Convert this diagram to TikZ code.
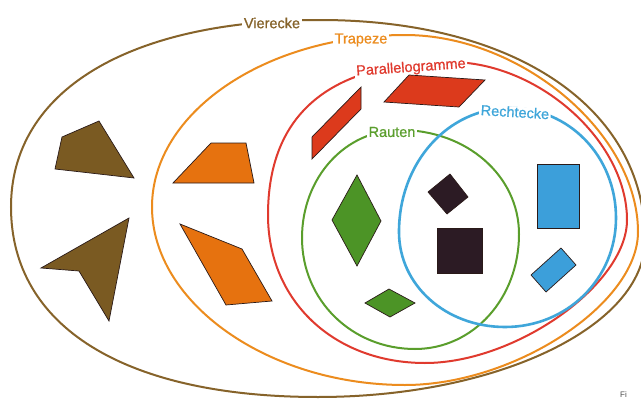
\documentclass[tikz,border=0pt]{standalone}
\usepackage{fontspec}
\setmainfont{Liberation Sans}
\newfontfamily\setnamefont[FakeBold=0.8]{Liberation Sans}
\definecolor{brownline}{HTML}{86632A}
\definecolor{brownfill}{HTML}{7A5A22}
\definecolor{orangeline}{HTML}{EC8C1E}
\definecolor{orangefill}{HTML}{E6720F}
\definecolor{redline}{HTML}{E03A2E}
\definecolor{redfill}{HTML}{DC3A1C}
\definecolor{greenline}{HTML}{5A9E2C}
\definecolor{greenfill}{HTML}{4C9426}
\definecolor{blueline}{HTML}{3FA6DA}
\definecolor{bluefill}{HTML}{3C9FDA}
\definecolor{darkfill}{HTML}{2C1B24}
\definecolor{outl}{HTML}{2A1A18}
% handle factors of the four quarters: left-top, top-right, right-bottom, bottom-left
\newcommand\ovalk[4]{\def\kA{#1}\def\kB{#2}\def\kC{#3}\def\kD{#4}}
% closed oval through its left, top, right and bottom points
\newcommand\ovalloop[8]{(#1,#2) .. controls ({#1},{#2-\kA*(#2-#4)}) and ({#3-\kA*(#3-#1)},{#4}) .. (#3,#4)
  .. controls ({#3+\kB*(#5-#3)},{#4}) and ({#5},{#6-\kB*(#6-#4)}) .. (#5,#6)
  .. controls ({#5},{#6+\kC*(#8-#6)}) and ({#7+\kC*(#5-#7)},{#8}) .. (#7,#8)
  .. controls ({#7-\kD*(#7-#1)},{#8}) and ({#1},{#2+\kD*(#8-#2)}) .. cycle}
\begin{document}
\begin{tikzpicture}[x=1pt,y=-1pt,
  setline/.style={line width=2pt},
  tag/.style={fill=white, inner xsep=1.5pt, inner ysep=0pt,
    font=\setnamefont\fontsize{14.5}{15}\selectfont},
  piece/.style={draw=outl, line width=0.7pt, line join=miter}]
\useasboundingbox (0,0) rectangle (641,399);
\fill[white] (0,0) rectangle (641,399);

% nested sets
\ovalk{0.62}{0.6}{0.55}{0.63}
\draw[setline, brownline]  \ovalloop{11}{207}{320}{20}{645}{240}{318}{397};
\ovalk{0.55}{0.5}{0.47}{0.54}
\draw[setline, orangeline] \ovalloop{152}{207}{405}{35}{638}{232}{405}{385};
\ovalk{0.66}{0.5}{0.45}{0.58}
\draw[setline, redline]    \ovalloop{268}{215}{450}{62}{627}{220}{425}{363};
\ovalk{0.56}{0.56}{0.56}{0.56}
\draw[setline, greenline]  \ovalloop{302}{238}{400}{130}{519}{234}{415}{349};
\ovalk{0.56}{0.56}{0.56}{0.56}
\draw[setline, blueline, line width=2.6pt] \ovalloop{399}{232}{510}{108}{616}{218}{505}{327};

% set names
\node[tag, text=brownline]  (vierecke) at (272,23) {Vierecke};
\node[tag, text=orangeline] (trapeze)  at (361,40) {Trapeze};
\node[tag, text=redline, rotate=4] (parallelogramme) at (411,68) {Parallelogramme};
\node[tag, text=greenline]  (rauten)   at (392,132) {Rauten};
\node[tag, text=blueline, rotate=-3.5] (rechtecke) at (515,112) {Rechtecke};

% general quadrilaterals
\filldraw[piece, fill=brownfill] (62,137) -- (99,121) -- (134,178) -- (55,169) -- cycle;
\filldraw[piece, fill=brownfill] (41,268) -- (129,218) -- (109,321) -- (79,271) -- cycle;

% trapezoids
\filldraw[piece, fill=orangefill] (173,183) -- (211,143) -- (246,143) -- (254,183) -- cycle;
\filldraw[piece, fill=orangefill] (180,224) -- (242,249) -- (272,301) -- (226,305) -- cycle;

% parallelograms
\filldraw[piece, fill=redfill] (312,137) -- (361,87) -- (361,109) -- (312,159) -- cycle;
\filldraw[piece, fill=redfill] (384,102) -- (409,75) -- (485,80) -- (459,107) -- cycle;

% rhombi
\filldraw[piece, fill=greenfill] (357,175) -- (381,221) -- (357,266) -- (332,220) -- cycle;
\filldraw[piece, fill=greenfill] (365,303) -- (389,289) -- (415,303) -- (390,317) -- cycle;

% squares
\filldraw[piece, fill=darkfill] (428,192) -- (450,174) -- (468,197) -- (447,214) -- cycle;
\filldraw[piece, fill=darkfill] (437,228) rectangle (482,273);

% rectangles
\filldraw[piece, fill=bluefill] (537,164) rectangle (579,228);
\filldraw[piece, fill=bluefill] (531,275) -- (561,248) -- (576,265) -- (546,292) -- cycle;

% caption initial in the corner
\node[text=black!70, font=\fontsize{8}{9}\selectfont, anchor=south west, inner sep=0pt] (caption) at (620,398) {Fi};
\end{tikzpicture}
\end{document}
